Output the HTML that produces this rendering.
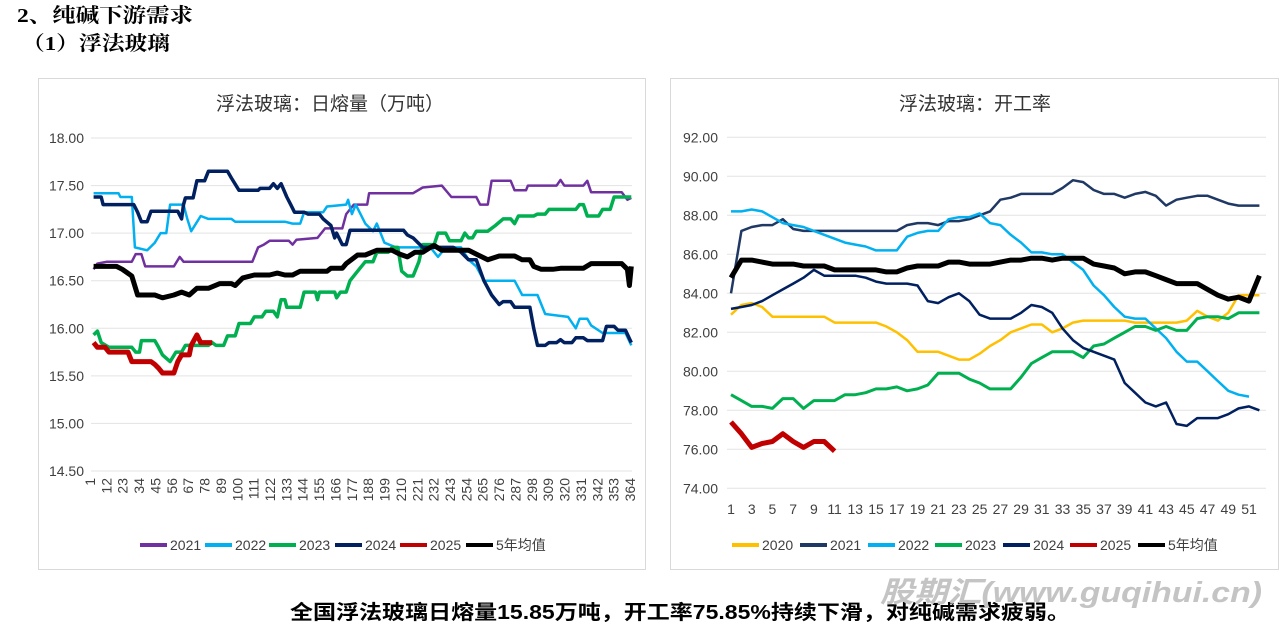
<!DOCTYPE html>
<html><head><meta charset="utf-8"><style>
html,body{margin:0;padding:0;background:#fff;width:1280px;height:622px;overflow:hidden}
svg{position:absolute;left:0;top:0}
text{font-family:"Liberation Sans","Noto Sans CJK SC",sans-serif}
.h{font-family:"Liberation Serif","Noto Serif CJK SC",serif;font-weight:bold}
</style></head><body>
<svg id="s" width="1280" height="622" xmlns="http://www.w3.org/2000/svg">
<text x="17" y="22" font-size="20" class="h" fill="#000" textLength="176" lengthAdjust="spacingAndGlyphs">2、纯碱下游需求</text>
<text x="22" y="50" font-size="20" class="h" fill="#000" textLength="148" lengthAdjust="spacingAndGlyphs">（1）浮法玻璃</text>
<rect x="38.5" y="78.5" width="607" height="491" fill="#fff" stroke="#d9d9d9"/>
<rect x="670.5" y="78.5" width="608" height="491" fill="#fff" stroke="#d9d9d9"/>
<text x="330" y="110" font-size="19" text-anchor="middle" fill="#333">浮法玻璃：日熔量（万吨）</text>
<text x="975" y="110" font-size="19" text-anchor="middle" fill="#333">浮法玻璃：开工率</text>
<text x="290" y="619" font-size="20" font-weight="bold" fill="#000" textLength="780" lengthAdjust="spacingAndGlyphs" font-family="Liberation Sans, Noto Sans CJK SC, sans-serif">全国浮法玻璃日熔量15.85万吨，开工率75.85%持续下滑，对纯碱需求疲弱。</text>
<text x="880" y="602" font-size="29" font-weight="bold" font-style="italic" fill="#c4c4c4" textLength="382" lengthAdjust="spacingAndGlyphs">股期汇(www.guqihui.cn)</text>
<g id="g"></g>
</svg>
<script>
var g=document.getElementById('g'),h='';
function ln(x1,y1,x2,y2,c,w){h+='<line x1="'+x1+'" y1="'+y1+'" x2="'+x2+'" y2="'+y2+'" stroke="'+c+'" stroke-width="'+w+'"/>';}
function tx(x,y,t,a,extra){h+='<text x="'+x+'" y="'+y+'" font-size="14" fill="#404040" text-anchor="'+a+'" '+(extra||'')+'>'+t+'</text>';}
function LY(v){return 138+(18-v)*95.14;}
function LX(zx){return zx/2.613+40;}
for(var i=0;i<8;i++){var v=18-i*0.5,y=LY(v);ln(91,y,632,y,'#e3e3e3',1);tx(84,y+5,v.toFixed(2),'end');}
for(var d=1;d<=364;d+=11){var x=90+(d-1)*540/363;tx(x+5,478,d,'end','transform="rotate(-90 '+(x+5)+' 478)"');}
function step(pts){var s='';for(var i=0;i<pts.length;i+=2){var x=LX(pts[i]),y=LY(pts[i+1]);s+=(i?' L':'M')+x.toFixed(1)+' '+y.toFixed(1);}return s;}
function path(d,c,w){h+='<path d="'+d+'" fill="none" stroke="'+c+'" stroke-width="'+w+'" stroke-linejoin="round"/>';}
var purple=[140,16.62,150,16.68,175,16.7,240,16.7,250,16.78,265,16.78,275,16.65,350,16.65,365,16.75,375,16.7,555,16.7,570,16.85,585,16.88,600,16.92,650,16.92,660,16.88,670,16.93,725,16.95,745,17.05,790,17.05,800,17.2,820,17.3,855,17.3,860,17.42,975,17.42,1000,17.48,1050,17.5,1075,17.38,1140,17.38,1150,17.3,1170,17.3,1180,17.55,1230,17.55,1240,17.45,1270,17.45,1275,17.5,1350,17.5,1360,17.56,1370,17.5,1420,17.5,1430,17.55,1440,17.43,1520,17.43,1535,17.35,1545,17.37];
var lblue=[140,17.42,205,17.42,210,17.38,240,17.38,248,16.85,280,16.82,300,16.9,315,17.0,330,17.0,340,17.3,375,17.3,385,17.15,395,17.02,420,17.18,440,17.15,500,17.15,510,17.12,640,17.12,660,17.1,680,17.1,690,17.22,740,17.22,750,17.28,800,17.3,805,17.35,815,17.2,825,17.3,850,17.1,870,17.02,880,17.1,900,16.9,930,16.85,1020,16.85,1040,16.75,1060,16.85,1100,16.85,1120,16.72,1140,16.65,1160,16.5,1240,16.5,1260,16.35,1300,16.35,1320,16.15,1380,16.12,1400,16.0,1410,16.1,1430,16.1,1440,16.03,1470,15.95,1530,15.95,1545,15.82];
var navy=[140,17.38,160,17.38,165,17.3,245,17.3,255,17.22,265,17.12,280,17.12,290,17.23,360,17.23,370,17.15,375,17.3,380,17.37,400,17.37,410,17.55,430,17.55,440,17.65,490,17.65,500,17.58,520,17.45,570,17.45,575,17.47,600,17.47,610,17.52,620,17.47,630,17.52,645,17.38,655,17.3,665,17.22,690,17.22,700,17.2,730,17.2,740,17.15,760,17.08,770,16.95,775,17.0,790,16.88,800,16.88,810,17.03,950,17.03,960,16.98,975,16.95,1000,16.85,1080,16.85,1100,16.8,1120,16.72,1140,16.72,1160,16.5,1180,16.35,1200,16.25,1210,16.28,1230,16.28,1240,16.22,1280,16.22,1290,16.0,1300,15.82,1320,15.82,1330,15.85,1350,15.85,1360,15.88,1370,15.85,1390,15.85,1400,15.9,1420,15.9,1430,15.87,1470,15.87,1480,16.02,1500,16.02,1510,15.98,1530,15.98,1545,15.85];
var green=[140,15.93,150,15.97,160,15.85,180,15.8,240,15.8,250,15.75,260,15.75,265,15.87,300,15.87,310,15.8,320,15.72,340,15.65,355,15.75,370,15.75,380,15.82,440,15.82,450,15.85,460,15.82,480,15.82,490,15.92,510,15.92,520,16.05,550,16.05,560,16.12,580,16.12,590,16.18,610,16.18,620,16.12,630,16.3,640,16.3,645,16.22,680,16.22,690,16.38,720,16.38,725,16.3,730,16.38,770,16.38,775,16.32,785,16.38,800,16.38,810,16.5,830,16.6,850,16.7,870,16.7,880,16.8,910,16.8,920,16.85,935,16.85,945,16.6,960,16.55,975,16.55,990,16.7,1000,16.88,1030,16.88,1040,17.0,1060,17.0,1070,16.92,1100,16.92,1110,17.0,1120,16.95,1130,16.95,1140,17.02,1170,17.02,1190,17.08,1210,17.15,1230,17.15,1240,17.1,1250,17.18,1290,17.18,1300,17.2,1320,17.2,1330,17.25,1400,17.25,1410,17.3,1420,17.3,1430,17.18,1460,17.18,1470,17.25,1490,17.25,1500,17.38,1545,17.38];
var red=[140,15.85,150,15.8,170,15.8,180,15.75,230,15.75,240,15.65,290,15.65,300,15.62,310,15.58,320,15.53,350,15.53,360,15.65,370,15.72,390,15.72,395,15.82,410,15.93,420,15.85,450,15.85];
var blk=[140,16.65,200,16.65,215,16.62,240,16.55,255,16.35,300,16.35,320,16.32,350,16.35,370,16.38,390,16.35,410,16.42,440,16.42,470,16.47,500,16.47,510,16.45,530,16.53,560,16.56,600,16.56,620,16.58,640,16.56,660,16.56,680,16.6,750,16.6,760,16.63,790,16.63,800,16.68,830,16.77,850,16.77,880,16.82,920,16.82,940,16.78,960,16.75,980,16.8,1000,16.8,1020,16.85,1030,16.87,1050,16.82,1120,16.82,1140,16.78,1170,16.72,1200,16.76,1240,16.76,1260,16.72,1280,16.72,1290,16.65,1310,16.62,1340,16.62,1360,16.63,1420,16.63,1440,16.68,1520,16.68,1535,16.62,1540,16.45,1545,16.65];
path(step(purple),'#7030a0',2.5);path(step(lblue),'#00b0f0',2.5);path(step(green),'#00b050',3.5);path(step(navy),'#002060',3.5);path(step(red),'#c00000',5);path(step(blk),'#000',5);
var lg=[['#7030a0','2021'],['#00b0f0','2022'],['#00b050','2023'],['#002060','2024'],['#c00000','2025'],['#000','5年均值']];
var lx=[140,205,269,335,400,466];
for(var i=0;i<6;i++){ln(lx[i],545,lx[i]+27,545,lg[i][0],4);tx(lx[i]+30,550,lg[i][1],'start');}
function RY(v){return 137.3+(92-v)*19.5;}
function RX(w){return 731+(w-1)*10.36;}
for(var i=0;i<10;i++){var v=92-i*2,y=RY(v);ln(727,y,1266,y,'#e3e3e3',1);tx(718,y+5,v.toFixed(2),'end');}
for(var w=1;w<=51;w+=2)tx(RX(w),514,w,'middle');
function wp(a,c,wd){var s='';for(var i=0;i<a.length;i++)s+=(i?' L':'M')+RX(i+1).toFixed(1)+' '+RY(a[i]).toFixed(1);path(s,c,wd);}
wp([82.9,83.4,83.5,83.3,82.8,82.8,82.8,82.8,82.8,82.8,82.5,82.5,82.5,82.5,82.5,82.3,82.0,81.6,81.0,81.0,81.0,80.8,80.6,80.6,80.9,81.3,81.6,82.0,82.2,82.4,82.4,82.0,82.2,82.5,82.6,82.6,82.6,82.6,82.6,82.5,82.5,82.5,82.5,82.5,82.6,83.1,82.8,82.6,83.0,83.9,83.9,83.9],'#ffc000',2.5);
wp([84.0,87.2,87.4,87.5,87.5,87.8,87.3,87.2,87.2,87.2,87.2,87.2,87.2,87.2,87.2,87.2,87.2,87.5,87.6,87.6,87.5,87.7,87.7,87.8,88.0,88.2,88.8,88.9,89.1,89.1,89.1,89.1,89.4,89.8,89.7,89.3,89.1,89.1,88.9,89.1,89.2,89.0,88.5,88.8,88.9,89.0,89.0,88.8,88.6,88.5,88.5,88.5],'#1f3864',2.5);
wp([88.2,88.2,88.3,88.2,87.9,87.6,87.5,87.4,87.2,87.0,86.8,86.6,86.5,86.4,86.2,86.2,86.2,86.9,87.1,87.2,87.2,87.8,87.9,87.9,88.1,87.6,87.5,87.0,86.6,86.1,86.1,86.0,86.0,85.6,85.2,84.4,83.9,83.3,82.8,82.7,82.7,82.2,81.7,81.0,80.5,80.5,80.0,79.5,79.0,78.8,78.7],'#00b0f0',2.5);
wp([78.8,78.5,78.2,78.2,78.1,78.6,78.6,78.1,78.5,78.5,78.5,78.8,78.8,78.9,79.1,79.1,79.2,79.0,79.1,79.3,79.9,79.9,79.9,79.6,79.4,79.1,79.1,79.1,79.7,80.4,80.7,81.0,81.0,81.0,80.7,81.3,81.4,81.7,82.0,82.3,82.3,82.1,82.3,82.1,82.1,82.7,82.8,82.8,82.7,83.0,83.0,83.0],'#00b050',3);
wp([83.2,83.3,83.4,83.6,83.9,84.2,84.5,84.8,85.2,84.9,84.9,84.9,84.9,84.8,84.6,84.5,84.5,84.5,84.4,83.6,83.5,83.8,84.0,83.6,82.9,82.7,82.7,82.7,83.0,83.4,83.3,83.0,82.2,81.6,81.2,81.0,80.8,80.6,79.4,78.9,78.4,78.2,78.4,77.3,77.2,77.6,77.6,77.6,77.8,78.1,78.2,78.0],'#002060',2.5);
wp([77.4,76.8,76.1,76.3,76.4,76.8,76.4,76.1,76.4,76.4,75.9],'#c00000',5);
wp([84.8,85.7,85.7,85.6,85.5,85.5,85.5,85.4,85.4,85.4,85.2,85.2,85.2,85.2,85.2,85.1,85.1,85.3,85.4,85.4,85.4,85.6,85.6,85.5,85.5,85.5,85.6,85.7,85.7,85.8,85.8,85.7,85.8,85.8,85.8,85.5,85.4,85.3,85.0,85.1,85.1,84.9,84.7,84.5,84.5,84.5,84.2,83.9,83.7,83.8,83.6,84.9],'#000',5);
var rg=[['#ffc000','2020'],['#1f3864','2021'],['#00b0f0','2022'],['#00b050','2023'],['#002060','2024'],['#c00000','2025'],['#000','5年均值']];
var rx=[732,800,868,935,1003,1070,1138];
for(var i=0;i<7;i++){ln(rx[i],545,rx[i]+27,545,rg[i][0],4);tx(rx[i]+30,550,rg[i][1],'start');}
g.innerHTML=h;
</script>
</body></html>
